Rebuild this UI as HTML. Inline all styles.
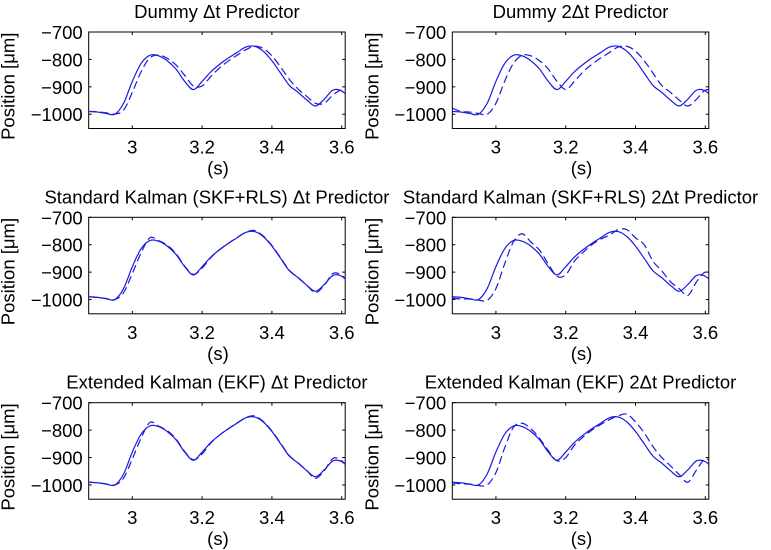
<!DOCTYPE html>
<html><head><meta charset="utf-8"><style>
body{margin:0;background:#fff;}
svg{display:block;font-family:"Liberation Sans",sans-serif;}
</style></head><body>
<svg id="fig" width="771" height="550" viewBox="0 0 771 550"></svg>
<script>
const times = [2.875,2.9,2.925,2.95,2.975,3.0,3.025,3.05,3.075,3.1,3.125,3.15,3.175,3.2,3.225,3.25,3.275,3.3,3.325,3.35,3.375,3.4,3.425,3.45,3.475,3.5,3.525,3.55,3.575,3.6,3.625];
const measured = [-990,-992,-997,-1000,-960,-880,-815,-785,-787,-805,-835,-880,-910,-880,-845,-818,-795,-775,-755,-752,-770,-805,-850,-895,-920,-948,-970,-945,-912,-915,-945];
const dummy1 = [-990,-991,-995,-999,-985,-920,-845,-795,-784,-796,-820,-858,-897,-897,-862,-831,-806,-785,-765,-752,-760,-787,-828,-873,-908,-935,-960,-960,-930,-912,-930];
const dummy2 = [-978,-990,-992,-997,-1000,-960,-880,-815,-785,-787,-805,-835,-880,-910,-880,-845,-818,-795,-775,-755,-752,-770,-805,-850,-895,-920,-948,-970,-945,-912,-915];
const skf1 = [-990,-992,-996,-1000,-975,-905,-830,-775,-785,-802,-832,-878,-908,-885,-847,-818,-795,-774,-755,-748,-768,-803,-848,-893,-920,-948,-975,-948,-905,-912,-945];
const skf2 = [-995,-998,-998,-1002,-1003,-960,-870,-790,-760,-790,-820,-870,-915,-910,-860,-828,-800,-780,-765,-745,-745,-775,-800,-860,-895,-935,-960,-985,-935,-900,-915];
const ekf1 = [-990,-992,-996,-1000,-975,-905,-830,-772,-785,-802,-832,-878,-908,-887,-847,-818,-795,-774,-755,-748,-768,-803,-848,-893,-920,-948,-976,-948,-903,-912,-945];
const ekf2 = [-992,-996,-997,-1002,-1000,-955,-865,-790,-775,-795,-830,-875,-912,-900,-855,-825,-800,-780,-762,-748,-742,-770,-810,-860,-900,-930,-962,-990,-945,-905,-925];
const xTicks = [3,3.2,3.4,3.6];
const xTickLabels = ["3","3.2","3.4","3.6"];
const yTicks = [-700,-800,-900,-1000];
const yTickLabels = ["\u2212700","\u2212800","\u2212900","\u22121000"];
const panels = [
 {title:"Dummy \u0394t Predictor", pred:dummy1, col:0,row:0, name:"dummy-dt"},
 {title:"Dummy 2\u0394t Predictor", pred:dummy2, col:1,row:0, name:"dummy-2dt"},
 {title:"Standard Kalman (SKF+RLS) \u0394t Predictor", pred:skf1, col:0,row:1, name:"skf-dt"},
 {title:"Standard Kalman (SKF+RLS) 2\u0394t Predictor", pred:skf2, col:1,row:1, name:"skf-2dt"},
 {title:"Extended Kalman (EKF) \u0394t Predictor", pred:ekf1, col:0,row:2, name:"ekf-dt"},
 {title:"Extended Kalman (EKF) 2\u0394t Predictor", pred:ekf2, col:1,row:2, name:"ekf-2dt"}
];
const NS="http://www.w3.org/2000/svg";
const svg=document.getElementById('fig');
function mk(tag,attrs,parent){const e=document.createElementNS(NS,tag);for(const k in attrs)e.setAttribute(k,attrs[k]);(parent||svg).appendChild(e);return e;}
const X0=2.875,X1=3.61,Y0=-1052,Y1=-700;
const FS='18.5';
const lefts=[88.7,452.3], tops=[32,217.3,402.7], W=256.5, H=96.5;
function smooth(pts){let d="M"+pts[0][0]+","+pts[0][1];for(let i=0;i<pts.length-1;i++){const p0=pts[Math.max(0,i-1)],p1=pts[i],p2=pts[i+1],p3=pts[Math.min(pts.length-1,i+2)];d+=" C"+(p1[0]+(p2[0]-p0[0])/6)+","+(p1[1]+(p2[1]-p0[1])/6)+" "+(p2[0]-(p3[0]-p1[0])/6)+","+(p2[1]-(p3[1]-p1[1])/6)+" "+p2[0]+","+p2[1];}return d;}
let cid=0;
panels.forEach(p=>{
 const L=lefts[p.col],T=tops[p.row];
 const sx=v=>L+(v-X0)/(X1-X0)*W, sy=v=>T+(Y1-v)/(Y1-Y0)*H;
 const g=mk('g',{});
 
 
 cid++;
 const cp=mk('clipPath',{id:'c'+cid},g);mk('rect',{x:L,y:T,width:W,height:H},cp);
 const t=mk('text',{x:L+W/2,y:T-14,'text-anchor':'middle','font-size':FS},g);t.textContent=p.title;
 
 
 const fr=mk('rect',{x:L,y:T,width:W,height:H,fill:'none',stroke:'#000','stroke-width':1},g);
 
 
 xTicks.forEach((v,i)=>{const x=sx(v);mk('line',{x1:x,y1:T+H,x2:x,y2:T+H-3,stroke:'#000'},g);mk('line',{x1:x,y1:T,x2:x,y2:T+3,stroke:'#000'},g);
  const tl=mk('text',{x:x,y:T+H+25,'text-anchor':'middle','font-size':FS},g);tl.textContent=xTickLabels[i];
  
  });
 yTicks.forEach((v,i)=>{const y=sy(v);mk('line',{x1:L,y1:y,x2:L+3,y2:y,stroke:'#000'},g);mk('line',{x1:L+W,y1:y,x2:L+W-3,y2:y,stroke:'#000'},g);
  const tl=mk('text',{x:L-6,y:y+7,'text-anchor':'end','font-size':FS},g);tl.textContent=yTickLabels[i];
  
  });
 const xl=mk('text',{x:L+W/2+1,y:T+H+46,'text-anchor':'middle','font-size':FS},g);xl.textContent="(s)";
 
 
 const yl=mk('text',{x:0,y:0,'text-anchor':'middle','font-size':FS,transform:`translate(${L-74},${T+H/2+6}) rotate(-90)`},g);yl.textContent="Position [\u03bcm]";
 
 
 const s1=mk('path',{d:smooth(times.map((t,i)=>[sx(t),sy(measured[i])])),fill:'none',stroke:'#1a1adc','stroke-width':1.2,'clip-path':`url(#c${cid})`},g);
 
 
 const s2=mk('path',{d:smooth(times.map((t,i)=>[sx(t),sy(p.pred[i])])),fill:'none',stroke:'#1a1adc','stroke-width':1.2,'stroke-dasharray':'8,4','clip-path':`url(#c${cid})`},g);
 
 
});
</script>
</body></html>
